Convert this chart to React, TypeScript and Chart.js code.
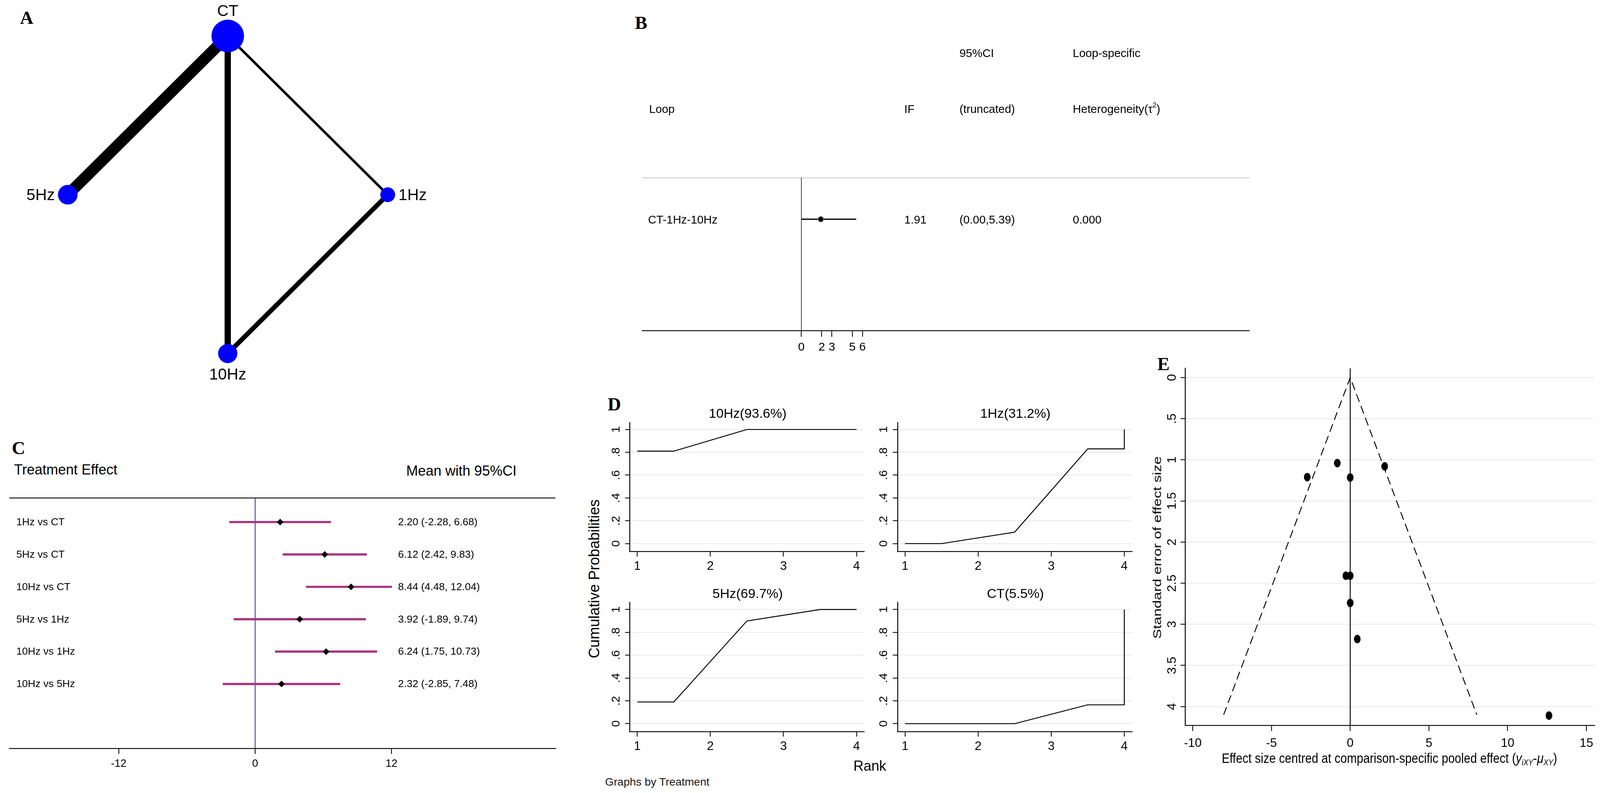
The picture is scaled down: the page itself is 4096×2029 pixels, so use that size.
import React, { useEffect, useLayoutEffect, useRef, useState } from 'react';
import { Chart, registerables } from 'chart.js';

Chart.register(...registerables);

const S = 0.948;
const FONT = '"Liberation Sans", Arial, Helvetica, sans-serif';
const SERIF = '"Liberation Serif", "Times New Roman", Times, serif';
const PINK = '#a8347f';
const NAVY = '#23237a';
const GRID = '#ebebeb';

/* ---------------- A: network plot ---------------- */
const nodeNames = ['CT', '5Hz', '1Hz', '10Hz'];
const nodeX = [0, -1, 1, 0];
const nodeY = [1, 0, 0, -1];
const nodeWeight = [22, 13.25, 10, 13];
const nodeLabelSide = ['top', 'left', 'right', 'bottom'];
const edgeFrom = ['CT', 'CT', 'CT', '1Hz'];
const edgeTo = ['5Hz', '10Hz', '1Hz', '10Hz'];
const edgeStudies = [9, 5, 2, 3.7];

/* ---------------- B: inconsistency loop ---------------- */
const loopNames = ['CT-1Hz-10Hz'];
const loopIF = [1.91];
const loopLow = [0.0];
const loopHigh = [5.39];
const loopTau2 = [0.0];
const loopTicks = [0, 2, 3, 5, 6];

/* ---------------- C: forest plot ---------------- */
const comparisons = ['1Hz vs CT', '5Hz vs CT', '10Hz vs CT', '5Hz vs 1Hz', '10Hz vs 1Hz', '10Hz vs 5Hz'];
const effectMean = [2.2, 6.12, 8.44, 3.92, 6.24, 2.32];
const effectLow = [-2.28, 2.42, 4.48, -1.89, 1.75, -2.85];
const effectHigh = [6.68, 9.83, 12.04, 9.74, 10.73, 7.48];
const forestTicks = [-12, 0, 12];

/* ---------------- D: cumulative ranking ---------------- */
const rankTreatments = ['10Hz', '1Hz', '5Hz', 'CT'];
const rankSucra = [93.6, 31.2, 69.7, 5.5];
const rankX = [1, 1.5, 2.5, 3.5, 4, 4];
const cumProb10Hz = [0.81, 0.81, 1, 1, 1, 1];
const cumProb1Hz = [0, 0, 0.1, 0.83, 0.83, 1];
const cumProb5Hz = [0.19, 0.19, 0.9, 1, 1, 1];
const cumProbCT = [0, 0, 0, 0.165, 0.165, 1];
const rankTicks = [1, 2, 3, 4];
const probTicks = [0, 0.2, 0.4, 0.6, 0.8, 1];

/* ---------------- E: comparison-adjusted funnel ---------------- */
const funnelEffect = [-0.82, 2.19, -2.73, 0, -0.28, 0, 0, 0.45, 12.62];
const funnelSE = [1.04, 1.08, 1.21, 1.215, 2.41, 2.41, 2.74, 3.18, 4.11];
const funnelLimitX = [-8.04, 0, 8.04];
const funnelLimitSE = [4.1, 0, 4.1];
const effTicks = [-10, -5, 0, 5, 10, 15];
const seTicks = [0, 0.5, 1, 1.5, 2, 2.5, 3, 3.5, 4];

/* ---------------- helpers ---------------- */
type Box = { cl: number; ct: number; cr: number; cb: number; yW: number; xH: number; padTop: number; padRight: number };
type Frame = { left: number; top: number; width: number; height: number; padding: { left: number; top: number; right: number; bottom: number } };

function frame(b: Box): Frame {
  const left = Math.floor((b.cl - b.yW) * S);
  const top = Math.floor((b.ct - b.padTop) * S);
  const right = Math.ceil((b.cr + b.padRight) * S);
  const bottom = Math.ceil((b.cb + b.xH) * S);
  return {
    left,
    top,
    width: right - left,
    height: bottom - top,
    padding: {
      left: b.cl * S - left - b.yW * S,
      top: b.ct * S - top,
      right: right - b.cr * S,
      bottom: bottom - b.cb * S - b.xH * S,
    },
  };
}

function stataNum(v: number) {
  if (v === 0) return '0';
  return String(+v.toFixed(2)).replace(/^0\./, '.').replace(/^-0\./, '-.');
}

function measure(text: string, sizeRef: number) {
  const c = document.createElement('canvas').getContext('2d') as CanvasRenderingContext2D;
  c.font = `${sizeRef * S}px ${FONT}`;
  return c.measureText(text).width;
}

function rotPad(labels: string[], sizeRef: number, dRef: number, tlRef: number) {
  const w = Math.max(...labels.map((l) => measure(l, sizeRef)));
  return dRef - tlRef - w / (2 * S);
}

function opts(f: Frame, scales: any) {
  return {
    animation: false,
    responsive: false,
    maintainAspectRatio: false,
    devicePixelRatio: 1,
    events: [],
    layout: { padding: f.padding, autoPadding: false },
    plugins: { legend: { display: false }, tooltip: { enabled: false }, title: { display: false } },
    scales,
  };
}

type AxisOpt = {
  pos: 'bottom' | 'left';
  min: number;
  max: number;
  ticks: number[];
  size: number;
  tickLen: number;
  pad: number;
  font: number;
  fmt?: (v: number) => string;
  rotate?: boolean;
  grid?: string;
  reverse?: boolean;
};

function axis(o: AxisOpt) {
  return {
    type: 'linear',
    position: o.pos,
    min: o.min,
    max: o.max,
    reverse: !!o.reverse,
    bounds: 'data',
    afterBuildTicks: (sc: any) => {
      sc.ticks = o.ticks.map((v) => ({ value: v }));
    },
    afterFit: (sc: any) => {
      if (o.pos === 'left') sc.width = o.size * S;
      else sc.height = o.size * S;
      sc.paddingLeft = 0;
      sc.paddingRight = 0;
      sc.paddingTop = 0;
      sc.paddingBottom = 0;
    },
    grid: {
      display: true,
      drawOnChartArea: !!o.grid,
      color: o.grid || 'rgba(0,0,0,0)',
      lineWidth: 2.5 * S,
      drawTicks: true,
      tickLength: o.tickLen * S,
      tickColor: '#000',
      tickWidth: 2.2 * S,
    },
    border: { display: true, color: '#000', width: 2.5 * S },
    ticks: {
      autoSkip: false,
      padding: o.pad * S,
      color: '#000',
      font: { family: FONT, size: o.font * S },
      callback: (v: any) => (o.fmt ? o.fmt(Number(v)) : String(v)),
      minRotation: o.rotate ? 90 : 0,
      maxRotation: o.rotate ? 90 : 0,
      crossAlign: o.rotate ? 'center' : 'near',
    },
  };
}

function hiddenAxis(min: number, max: number, reverse = false) {
  return { type: 'linear', display: false, min, max, reverse, bounds: 'data' };
}

function ChartCanvas({ box, build }: { box: Box; build: (f: Frame) => any }) {
  const ref = useRef<HTMLCanvasElement | null>(null);
  const f = frame(box);
  useEffect(() => {
    if (!ref.current) return;
    const chart = new Chart(ref.current, build(f));
    return () => chart.destroy();
  }, []);
  return (
    <canvas
      ref={ref}
      width={f.width}
      height={f.height}
      style={{ position: 'absolute', left: f.left, top: f.top, width: f.width, height: f.height }}
    />
  );
}

type LabelProps = {
  t: React.ReactNode;
  x: number;
  y: number;
  size: number;
  align?: 'left' | 'center' | 'right';
  rot?: number;
  serif?: boolean;
  fitWidth?: number;
  sy?: number;
  color?: string;
};

function Label(p: LabelProps) {
  const ref = useRef<HTMLDivElement | null>(null);
  const [sx, setSx] = useState(1);
  useLayoutEffect(() => {
    if (p.fitWidth && ref.current) {
      const w = ref.current.offsetWidth;
      if (w > 0) setSx((p.fitWidth * S) / w);
    }
  }, []);
  const align = p.align || 'center';
  const tx = align === 'left' ? '0' : align === 'right' ? '-100%' : '-50%';
  const origin = align === 'left' ? 'left center' : align === 'right' ? 'right center' : 'center center';
  const transform =
    `translate(${tx}, -50%)` +
    (p.rot ? ` rotate(${p.rot}deg)` : '') +
    (sx !== 1 ? ` scaleX(${sx})` : '') +
    (p.sy ? ` scaleY(${p.sy})` : '');
  return (
    <div
      ref={ref}
      style={{
        position: 'absolute',
        left: p.x * S,
        top: p.y * S,
        fontSize: p.size * S,
        lineHeight: 1,
        whiteSpace: 'nowrap',
        fontFamily: p.serif ? SERIF : FONT,
        fontWeight: p.serif ? 'bold' : 'normal',
        color: p.color || '#000',
        transform,
        transformOrigin: origin,
      }}
    >
      {p.t}
    </div>
  );
}

/* ---------------- chart builders ---------------- */
const idx = (n: string) => nodeNames.indexOf(n);
const NODE_PX = 2;
const EDGE_PX = 3.4;

const buildA = (f: Frame) => ({
  type: 'scatter',
  data: {
    datasets: [
      {
        data: nodeNames.map((_, i) => ({ x: nodeX[i], y: nodeY[i] })),
        pointRadius: nodeWeight.map((w) => w * NODE_PX * S),
        pointBackgroundColor: '#0000ff',
        pointBorderWidth: 0,
        pointStyle: 'circle',
        order: 0,
      },
      ...edgeFrom.map((from, i) => ({
        data: [
          { x: nodeX[idx(from)], y: nodeY[idx(from)] },
          { x: nodeX[idx(edgeTo[i])], y: nodeY[idx(edgeTo[i])] },
        ],
        showLine: true,
        borderColor: '#000',
        borderWidth: edgeStudies[i] * EDGE_PX * S,
        borderCapStyle: 'butt',
        pointRadius: 0,
        order: 1,
      })),
    ],
  },
  options: opts(f, { x: hiddenAxis(-1.4236, 1.4699), y: hiddenAxis(-1.294, 1.2264) }),
  plugins: [
    {
      id: 'nodeLabels',
      afterDatasetsDraw(chart: any) {
        const { ctx, scales } = chart;
        ctx.save();
        ctx.font = `${43 * S}px ${FONT}`;
        ctx.fillStyle = '#000';
        ctx.textBaseline = 'middle';
        nodeNames.forEach((name, i) => {
          const px = scales.x.getPixelForValue(nodeX[i]);
          const py = scales.y.getPixelForValue(nodeY[i]);
          const side = nodeLabelSide[i];
          if (side === 'top') {
            ctx.textAlign = 'center';
            ctx.fillText(name, px, py - 66 * S);
          } else if (side === 'bottom') {
            ctx.textAlign = 'center';
            ctx.fillText(name, px, py + 58 * S);
          } else if (side === 'left') {
            ctx.textAlign = 'right';
            ctx.fillText(name, px - 35 * S, py + 3 * S);
          } else {
            ctx.textAlign = 'left';
            ctx.fillText(name, px + 29 * S, py + 3 * S);
          }
        });
        ctx.restore();
      },
    },
  ],
});

const B_YMIN = -2.7;
const B_YMAX = 1;
const buildB = (f: Frame) => ({
  type: 'scatter',
  data: {
    datasets: [
      {
        data: loopNames.map((_, i) => ({ x: loopIF[i], y: -i })),
        pointRadius: 7.5 * S,
        pointBackgroundColor: '#000',
        pointBorderColor: '#8a8a8a',
        pointBorderWidth: 1.5 * S,
        order: 0,
      },
      ...loopNames.map((_, i) => ({
        data: [
          { x: loopLow[i], y: -i },
          { x: loopHigh[i], y: -i },
        ],
        showLine: true,
        borderColor: '#000',
        borderWidth: 3.5 * S,
        pointRadius: 0,
        order: 1,
      })),
      {
        data: [
          { x: 0, y: B_YMIN },
          { x: 0, y: B_YMAX },
        ],
        showLine: true,
        borderColor: '#000',
        borderWidth: 1.5 * S,
        pointRadius: 0,
        order: 2,
      },
    ],
  },
  options: opts(f, {
    x: axis({ pos: 'bottom', min: -15.636, max: 44.0, ticks: loopTicks, size: 87, tickLen: 16, pad: 9, font: 32 }),
    y: hiddenAxis(B_YMIN, B_YMAX),
  }),
  plugins: [
    {
      id: 'bText',
      beforeDatasetsDraw(chart: any) {
        const { ctx, chartArea: a } = chart;
        ctx.save();
        ctx.strokeStyle = '#cfcfcf';
        ctx.lineWidth = 2.5 * S;
        ctx.beginPath();
        ctx.moveTo(a.left, a.top);
        ctx.lineTo(a.right, a.top);
        ctx.stroke();
        ctx.restore();
      },
      afterDatasetsDraw(chart: any) {
        const { ctx, chartArea: a, scales } = chart;
        ctx.save();
        ctx.font = `${31 * S}px ${FONT}`;
        ctx.fillStyle = '#000';
        ctx.textBaseline = 'middle';
        ctx.textAlign = 'left';
        loopNames.forEach((name, i) => {
          const y = scales.y.getPixelForValue(-i) + 3 * S;
          ctx.fillText(name, a.left + 16 * S, y);
          ctx.fillText(loopIF[i].toFixed(2), a.left + 708 * S, y);
          ctx.fillText(`(${loopLow[i].toFixed(2)},${loopHigh[i].toFixed(2)})`, a.left + 857 * S, y);
          ctx.fillText(loopTau2[i].toFixed(3), a.left + 1163 * S, y);
        });
        ctx.restore();
      },
    },
  ],
});

const C_YMIN = 0.256;
const C_YMAX = 7.99;
const buildC = (f: Frame) => ({
  type: 'scatter',
  data: {
    datasets: [
      {
        data: comparisons.map((_, i) => ({ x: effectMean[i], y: i + 1 })),
        pointStyle: 'rectRot',
        pointRadius: 9 * S,
        pointBackgroundColor: '#000',
        pointBorderWidth: 0,
        order: 0,
      },
      ...comparisons.map((_, i) => ({
        data: [
          { x: effectLow[i], y: i + 1 },
          { x: effectHigh[i], y: i + 1 },
        ],
        showLine: true,
        borderColor: PINK,
        borderWidth: 6 * S,
        pointRadius: 0,
        order: 1,
      })),
      {
        data: [
          { x: 0, y: C_YMIN },
          { x: 0, y: C_YMAX },
        ],
        showLine: true,
        borderColor: NAVY,
        borderWidth: 2 * S,
        pointRadius: 0,
        order: 2,
      },
    ],
  },
  options: opts(f, {
    x: axis({ pos: 'bottom', min: -21.63, max: 26.42, ticks: forestTicks, size: 80, tickLen: 15, pad: 9.6, font: 29 }),
    y: hiddenAxis(C_YMIN, C_YMAX, true),
  }),
  plugins: [
    {
      id: 'cText',
      beforeDatasetsDraw(chart: any) {
        const { ctx, chartArea: a } = chart;
        ctx.save();
        ctx.strokeStyle = '#000';
        ctx.lineWidth = 2.5 * S;
        ctx.beginPath();
        ctx.moveTo(a.left, a.top);
        ctx.lineTo(a.right, a.top);
        ctx.stroke();
        ctx.restore();
      },
      afterDatasetsDraw(chart: any) {
        const { ctx, chartArea: a, scales } = chart;
        ctx.save();
        ctx.font = `${28 * S}px ${FONT}`;
        ctx.fillStyle = '#000';
        ctx.textBaseline = 'middle';
        ctx.textAlign = 'left';
        comparisons.forEach((c, i) => {
          const y = scales.y.getPixelForValue(i + 1) + 1 * S;
          ctx.fillText(c, a.left + 19 * S, y);
          ctx.fillText(
            `${effectMean[i].toFixed(2)} (${effectLow[i].toFixed(2)}, ${effectHigh[i].toFixed(2)})`,
            a.left + 1050 * S,
            y
          );
        });
        ctx.restore();
      },
    },
  ],
});

const rankCurves = [cumProb10Hz, cumProb1Hz, cumProb5Hz, cumProbCT];
const dOrigins = [
  [1701, 1140],
  [2424, 1140],
  [1701, 1626],
  [2424, 1626],
];
const D_W = 633;
const D_H = 349;

const buildD = (probs: number[]) => (f: Frame) => ({
  type: 'scatter',
  data: {
    datasets: [
      {
        data: rankX.map((x, j) => ({ x, y: probs[j] })),
        showLine: true,
        borderColor: '#000',
        borderWidth: 2.5 * S,
        pointRadius: 0,
        tension: 0,
      },
    ],
  },
  options: opts(f, {
    x: axis({ pos: 'bottom', min: 0.899, max: 4.106, ticks: rankTicks, size: 70, tickLen: 13, pad: 7, font: 33 }),
    y: axis({
      pos: 'left',
      min: -0.071,
      max: 1.062,
      ticks: probTicks,
      size: 70,
      tickLen: 13,
      pad: rotPad(probTicks.map(stataNum), 32, 37, 13),
      font: 32,
      fmt: stataNum,
      rotate: true,
      grid: GRID,
    }),
  }),
});

const E_YMIN = -0.113;
const E_YMAX = 4.23;
const buildE = (f: Frame) => {
  const dot = document.createElement('canvas');
  dot.width = Math.round(18 * S);
  dot.height = Math.round(23 * S);
  const g = dot.getContext('2d') as CanvasRenderingContext2D;
  g.fillStyle = '#000';
  g.beginPath();
  g.ellipse(dot.width / 2, dot.height / 2, dot.width / 2, dot.height / 2, 0, 0, Math.PI * 2);
  g.fill();
  return {
    type: 'scatter',
    data: {
      datasets: [
        {
          data: funnelEffect.map((x, i) => ({ x, y: funnelSE[i] })),
          pointStyle: dot,
          pointRadius: 10 * S,
          order: 0,
        },
        {
          data: [
            { x: 0, y: E_YMIN },
            { x: 0, y: E_YMAX },
          ],
          showLine: true,
          borderColor: '#000',
          borderWidth: 2.5 * S,
          pointRadius: 0,
          order: 1,
        },
        {
          data: funnelLimitX.map((x, i) => ({ x, y: funnelLimitSE[i] })),
          showLine: true,
          borderColor: '#000',
          borderWidth: 2.5 * S,
          borderDash: [22 * S, 12 * S],
          pointRadius: 0,
          order: 2,
        },
      ],
    },
    options: opts(f, {
      x: axis({ pos: 'bottom', min: -10.47, max: 15.52, ticks: effTicks, size: 80, tickLen: 15, pad: 14, font: 33 }),
      y: axis({
        pos: 'left',
        min: E_YMIN,
        max: E_YMAX,
        reverse: true,
        ticks: seTicks,
        size: 70,
        tickLen: 13,
        pad: rotPad(seTicks.map(stataNum), 34, 35, 13),
        font: 34,
        fmt: stataNum,
        rotate: true,
        grid: GRID,
      }),
    }),
  };
};

/* ---------------- App ---------------- */
export default function App() {
  useEffect(() => {
    document.body.style.margin = '0';
  }, []);

  const sup = { fontSize: '0.6em', position: 'relative' as const, top: '-0.75em' };
  const sub = { fontSize: '0.62em', position: 'relative' as const, top: '0.3em' };

  const labels: LabelProps[] = [
    { t: 'A', x: 72, y: 48, size: 50, serif: true },
    { t: 'B', x: 1731, y: 62, size: 50, serif: true },
    { t: 'C', x: 50, y: 1210, size: 50, serif: true },
    { t: 'D', x: 1659, y: 1092, size: 50, serif: true },
    { t: 'E', x: 3142, y: 983, size: 50, serif: true },

    { t: '95%CI', x: 2591, y: 143, size: 31, align: 'left' },
    { t: 'Loop-specific', x: 2897, y: 143, size: 31, align: 'left' },
    { t: 'Loop', x: 1753, y: 294, size: 31, align: 'left' },
    { t: 'IF', x: 2442, y: 294, size: 31, align: 'left' },
    { t: '(truncated)', x: 2591, y: 294, size: 31, align: 'left' },
    {
      t: (
        <>
          Heterogeneity(τ<span style={sup}>2</span>)
        </>
      ),
      x: 2897,
      y: 294,
      size: 31,
      align: 'left',
    },

    { t: 'Treatment Effect', x: 38, y: 1268, size: 38, align: 'left' },
    { t: 'Mean with 95%CI', x: 1097, y: 1271, size: 38, align: 'left' },

    ...rankTreatments.map((name, i) => ({
      t: `${name}(${rankSucra[i].toFixed(1)}%)`,
      x: dOrigins[i][0] + D_W / 2 + 1.5,
      y: dOrigins[i][1] - 25,
      size: 36,
    })),
    { t: 'Cumulative Probabilities', x: 1605, y: 1562, size: 40, rot: -90 },
    { t: 'Rank', x: 2349, y: 2067, size: 38 },
    { t: 'Graphs by Treatment', x: 1634, y: 2110, size: 30, align: 'left', color: '#1a1a1a' },

    { t: 'Standard error of effect size', x: 3126, y: 1478, size: 40, rot: -90, sy: 0.8 },
    {
      t: (
        <>
          Effect size centred at comparison-specific pooled effect (<i>y</i>
          <span style={sub}>
            <i>iXY</i>
          </span>
          -<i>μ</i>
          <span style={sub}>
            <i>XY</i>
          </span>
          )
        </>
      ),
      x: 3752,
      y: 2046,
      size: 37,
      fitWidth: 906,
    },
  ];

  return (
    <div
      style={{
        position: 'absolute',
        left: 0,
        top: 0,
        width: 4096,
        height: 2029,
        overflow: 'hidden',
        background: '#fff',
      }}
    >
      <ChartCanvas box={{ cl: 0, ct: 0, cr: 1250, cb: 1080, yW: 0, xH: 0, padTop: 0, padRight: 0 }} build={buildA} />
      <ChartCanvas box={{ cl: 1734, ct: 480, cr: 3374, cb: 893, yW: 0, xH: 87, padTop: 380, padRight: 26 }} build={buildB} />
      <ChartCanvas box={{ cl: 25, ct: 1344, cr: 1500, cb: 2020, yW: 0, xH: 80, padTop: 44, padRight: 40 }} build={buildC} />
      {rankCurves.map((probs, i) => (
        <ChartCanvas
          key={i}
          box={{
            cl: dOrigins[i][0],
            ct: dOrigins[i][1],
            cr: dOrigins[i][0] + D_W,
            cb: dOrigins[i][1] + D_H,
            yW: 70,
            xH: 70,
            padTop: 10,
            padRight: 10,
          }}
          build={buildD(probs)}
        />
      ))}
      <ChartCanvas box={{ cl: 3201, ct: 994, cr: 4306, cb: 1958, yW: 70, xH: 80, padTop: 15, padRight: 11 }} build={buildE} />
      {labels.map((l, i) => (
        <Label key={i} {...l} />
      ))}
    </div>
  );
}
